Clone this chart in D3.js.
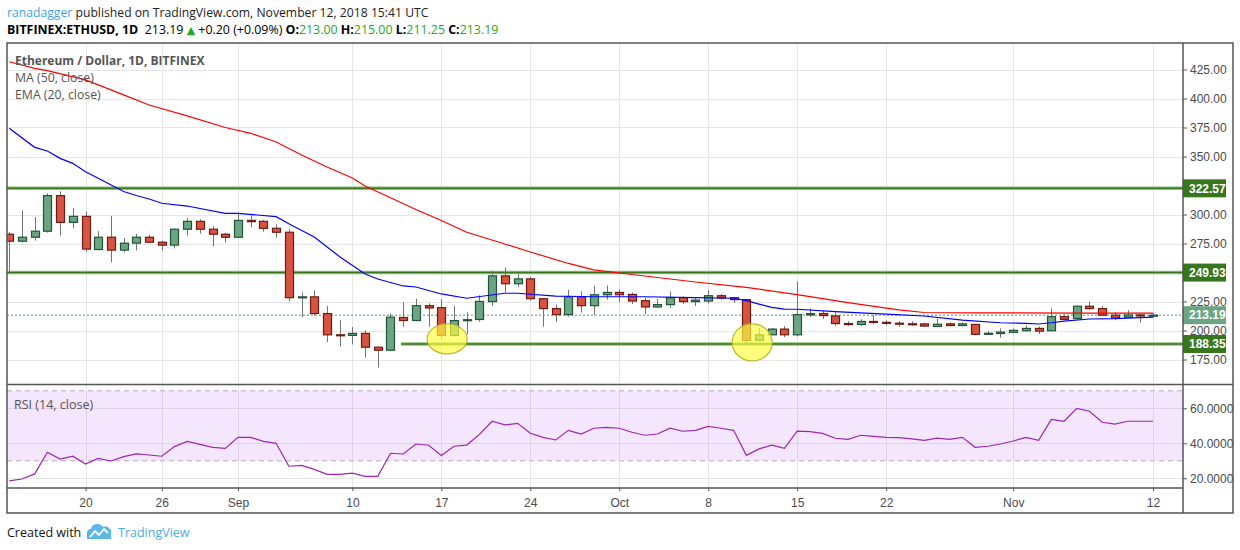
<!DOCTYPE html>
<html>
<head>
<meta charset="utf-8">
<script src="https://cdn.jsdelivr.net/npm/d3@7"></script>
<style>
  body { margin: 0; background: #fff; }
  svg { display: block; }
  text { font-family: "Open Sans", sans-serif; }
</style>
</head>
<body>
<svg id="chart" width="1240" height="550"></svg>
<script>
/************************* Data *************************/
const START_DATE = "2018-08-14";   // first candle, one candle per day

const opens = [
  283, 277, 280.4, 285.6, 316.3, 293.2, 298.4, 269.8, 280.4, 269.3,
  275.3, 280.4, 276.1, 273.6, 287.3, 294.1, 287.3, 283, 280.4, 294.9,
  294.1, 288.1, 284.7, 228.3, 229, 214.6, 196.3, 195.8, 197.5, 185.6,
  183, 211.2, 208.6, 221.4, 219.7, 195.8, 208.6, 209.5, 224.9, 247.1,
  240.3, 244.5, 227.4, 218.9, 213.7, 229.1, 221.4, 230.8, 232.8, 231.1,
  225.7, 220.3, 222.3, 228.3, 224.9, 225.4, 230, 228.3, 226.6, 191.5,
  196.3, 201.2, 196.3, 213.5, 214.6, 212.6, 206, 205.2, 207.8, 207,
  206.3, 205.8, 205.7, 203.5, 205.7, 204.3, 205.2, 196.7, 197.4, 198.4,
  199.8, 201.8, 199.8, 211.9, 210.3, 220.9, 218.9, 213.2, 211.5, 213.4,
  213.0
];
const highs = [
  285, 303.5, 297.8, 318.3, 320, 305.5, 302.6, 285.6, 298.6, 279.8,
  283.3, 282.4, 277.3, 288, 297, 295.8, 290.1, 284, 301.8, 299.2,
  295.4, 291.5, 287.3, 232.8, 234.5, 221, 209, 203, 200.3, 186,
  214.6, 224.3, 227.4, 223.4, 226.8, 221.4, 215.7, 230.3, 251.4, 254.2,
  249, 246.2, 227.7, 222.3, 235.1, 233.7, 238.8, 238.8, 235.6, 232.8,
  228.3, 227.1, 233.7, 229.4, 228, 234.5, 231.4, 229, 227, 202.3,
  202.3, 203.8, 242.2, 219, 217.2, 215.7, 208, 209.7, 213.2, 208.6,
  208, 208, 206.6, 210.3, 206.9, 207, 205.7, 199.5, 201.8, 201.8,
  204.4, 203.5, 218.9, 213.7, 221.7, 224.9, 221.1, 215.5, 217.5, 214,
  215
];
const lows = [
  250.8, 276, 277.5, 284.4, 282, 288, 268, 269.3, 258.7, 267.3,
  269, 276, 269, 270.7, 282, 283.5, 272.4, 275.8, 280, 289,
  285.2, 280, 225.4, 211.5, 213, 190, 186, 188, 176.7, 168.1,
  182.5, 203.2, 208, 203.2, 193, 194.6, 196.7, 207.5, 221, 233,
  237.7, 225.7, 203.2, 207.5, 212, 215.5, 213.4, 226.6, 224.5, 222.8,
  214.3, 219.4, 219.4, 222.8, 221.1, 223.2, 226.6, 223.7, 188.6, 190.3,
  196, 194.4, 195, 211.7, 210, 204, 204, 204, 205.8, 204.6,
  203.2, 204, 203.2, 203, 203.5, 203.7, 195.8, 196, 193.8, 197.6,
  199, 197, 199.5, 208.9, 209, 217.7, 212.9, 208.9, 210.8, 206.6,
  211.25
];
const closes = [
  277, 280.4, 285.6, 316.3, 293.2, 298.4, 270.2, 280.4, 269.3, 275.3,
  280.4, 276.1, 273.6, 287.3, 294.1, 287.3, 283, 280.4, 294.9, 293.8,
  288.1, 284.7, 228.3, 229, 214.6, 196.3, 195.8, 197.5, 185.6, 183,
  211.5, 208.6, 221.4, 219.4, 195.8, 208.6, 209.3, 225.1, 247.1, 240.3,
  244.5, 227.4, 218.9, 213.7, 229.1, 221.4, 230.8, 232.8, 230.8, 225.4,
  220.3, 222.3, 228.3, 224.9, 226.2, 230, 228, 226.6, 191.5, 196.3,
  201.2, 196.3, 213.7, 214.5, 212.9, 206, 205.5, 207.8, 207, 206.3,
  205.8, 205.5, 203.8, 205.4, 204.3, 205.7, 196.7, 197.6, 198.6, 200.1,
  201.8, 199.5, 211.9, 209.6, 220.9, 218.9, 213.2, 210.9, 213.4, 213.0,
  213.19
];

const rsi = [
  18.5, 19.6, 22.5, 34.9, 31, 32.6, 28.2, 31.4, 29.9, 32.4,
  33.9, 33.3, 32.6, 38.1, 41.1, 39.4, 37.7, 37.1, 43.4, 43.4,
  41.1, 40, 26.9, 27.4, 25.1, 22.3, 22.3, 22.9, 21.1, 21.1,
  34.3, 33.9, 39.6, 38.9, 33.1, 38.3, 39, 45.1, 52.6, 50.5,
  51.4, 45.7, 43.4, 41.9, 47.4, 45.3, 48.6, 49.1, 48.6, 46.3,
  44.6, 45.3, 48.6, 46.9, 47.4, 49.7, 48.6, 47.4, 33.1, 36.8,
  38.9, 37.1, 46.9, 46.7, 45.7, 42.9, 42.3, 44.6, 44, 43.4,
  43.2, 42.5, 41.7, 42.9, 42.3, 43.4, 37.7, 38.3, 39.6, 41.3,
  43.4, 41.7, 53.7, 52.6, 60, 58.3, 52, 51, 52.6, 52.6,
  52.6
];

// [candle index, value]
const ma50 = [
  [0, 431.7], [2, 426], [3, 424], [6, 416], [9, 403.1], [11, 394.4],
  [14, 385], [17, 375], [19, 370], [21, 362.5], [23, 351.3], [25, 341],
  [27, 331.5], [28, 324.6], [32, 304.3], [34, 294.8], [36, 284.7], [39, 274.6],
  [41, 267.7], [44, 257.8], [46, 252.2], [49, 248.3], [54, 241.8], [58, 237.1],
  [62, 231], [66, 224.1], [70, 217.7], [72, 215.5], [76, 215.2], [84, 215], [90, 215]
];
const ema20 = [
  [0, 374.3], [2, 357.9], [3, 354.7], [4, 348.4], [5, 344.1], [6, 336.9],
  [7, 331.2], [9, 319.8], [10, 316.4], [11, 313.4], [12, 309.7], [14, 307.3],
  [17, 301], [18, 301], [21, 298.1], [22, 292], [24, 280.6], [26, 263.6],
  [28, 248.7], [29, 244.4], [31, 238.4], [32, 237.5], [34, 231.5], [36, 227.8],
  [39, 232.1], [40, 232.1], [43, 229.7], [46, 229.1], [50, 229.1], [54, 228.3],
  [57, 227.8], [58, 225.7], [59, 222.8], [60, 220], [61, 218.5], [62, 218.3],
  [65, 216.2], [69, 214.2], [72, 212.5], [75, 209], [78, 206.7], [80, 206.1],
  [81, 205.6], [82, 206.7], [83, 208.1], [85, 209.9], [87, 210.2], [90, 211.6]
];

const levels = [322.57, 249.93, 188.35];
const levelStarts = [null, null, "2018-09-13T20:00Z"];
const lastPrice = 213.19;

const priceGrid = [175, 200, 225, 250, 275, 300, 325, 350, 375, 400, 425];
const priceTicks = [175, 200, 225, 275, 300, 350, 375, 400, 425];
const rsiTicks = [20, 40, 60];
const rsiBand = [30, 70];
const dateTicks = ["2018-08-20", "2018-08-26", "2018-09-01", "2018-09-10", "2018-09-17",
  "2018-09-24", "2018-10-01", "2018-10-08", "2018-10-15", "2018-10-22", "2018-11-01", "2018-11-12"];
const dateLabels = ["20", "26", "Sep", "10", "17", "24", "Oct", "8", "15", "22", "Nov", "12"];

// highlighted bounces: [date, price]
const marks = [["2018-09-17T11:00Z", 192.7], ["2018-10-11T11:00Z", 189.7]];

/************************* Constants *************************/
const PANE = {left: 7, right: 1183, top: 43, bottom: 384.5, rsiBottom: 488, outerRight: 1233, outerBottom: 513};
const COLORS = {
  grid: "#e6e6e6",
  border: "#555",
  axisText: "#4a4a4a",
  upFill: "#6ba583", upStroke: "#225437",
  downFill: "#d75442", downStroke: "#6f1a12",
  wick: "#737375",
  level: "#38761d", levelHalo: "#93c47d",
  last: "#6ba583",
  ma: "#ff0000", ema: "#0000ff",
  rsi: "#9c27b0", rsiFill: "#f3e6fd", rsiBandLine: "#b9a9bd",
  green: "#26a625", link: "#3fa5df"
};

const svg = d3.select("#chart");
const parse = d3.utcParse("%Y-%m-%d");
const start = parse(START_DATE);

const x = d3.scaleUtc()
  .domain([parse("2018-08-20"), parse("2018-11-12")])
  .range([85.5, 1153]);
const y = d3.scaleLinear().domain([175, 425]).range([359.5, 69.5]);
const yr = d3.scaleLinear().domain([20, 60]).range([478.3, 408.3]);

const candles = closes.map((c, i) => ({
  date: d3.utcDay.offset(start, i),
  open: opens[i], high: highs[i], low: lows[i], close: c
}));

/************************* Rendering *************************/
drawHeader();
drawGrid();
drawRsiPane();
drawMainPane();
drawAxes();
drawFrame();
drawFooter();

/** Publisher line and the OHLC summary */
function drawHeader() {
  const l1 = svg.append("text").attr("x", 7).attr("y", 17).style("font-size", "12.2px").attr("fill", "#222");
  l1.append("tspan").attr("fill", COLORS.link).text("ranadagger");
  l1.append("tspan").text(" published on TradingView.com, November 12, 2018 15:41 UTC");

  const l2 = svg.append("text").attr("x", 7).attr("y", 34).style("font-size", "12.4px").attr("fill", "#000");
  l2.append("tspan").style("font-weight", "bold").text("BITFINEX:ETHUSD, 1D");
  l2.append("tspan").text(`\u00a0 ${lastPrice} `);
  l2.append("tspan").attr("fill", COLORS.green).style("font-family", "DejaVu Sans").style("font-size", "11px").text("\u25b2");
  l2.append("tspan").text(" +0.20 (+0.09%) ");
  const ohlc = [["O:", opens[90]], ["H:", highs[90]], ["L:", lows[90]], ["C:", closes[90]]];
  ohlc.forEach(([k, v], i) => {
    l2.append("tspan").style("font-weight", "bold").text((i ? " " : "") + k);
    l2.append("tspan").attr("fill", COLORS.green).text(v.toFixed(2));
  });
}

function drawGrid() {
  const g = svg.append("g").attr("stroke", COLORS.grid).attr("stroke-width", 1);
  g.selectAll("line.h").data(priceGrid).join("line")
    .attr("x1", PANE.left).attr("x2", PANE.right)
    .attr("y1", d => Math.round(y(d)) + 0.5).attr("y2", d => Math.round(y(d)) + 0.5);
  g.selectAll("line.v").data(dateTicks).join("line")
    .attr("x1", d => Math.round(x(parse(d))) + 0.5).attr("x2", d => Math.round(x(parse(d))) + 0.5)
    .attr("y1", PANE.top).attr("y2", PANE.rsiBottom);
}

function drawRsiPane() {
  const g = svg.append("g");
  g.append("rect")
    .attr("x", PANE.left).attr("width", PANE.right - PANE.left)
    .attr("y", yr(rsiBand[1])).attr("height", yr(rsiBand[0]) - yr(rsiBand[1]))
    .attr("fill", COLORS.rsiFill);
  g.selectAll("line.grid").data(rsiTicks).join("line")
    .attr("x1", PANE.left).attr("x2", PANE.right)
    .attr("y1", d => Math.round(yr(d)) + 0.5).attr("y2", d => Math.round(yr(d)) + 0.5)
    .attr("stroke", d => d >= rsiBand[0] ? "#e0cfe8" : COLORS.grid);
  g.selectAll("line.band").data(rsiBand).join("line")
    .attr("x1", PANE.left).attr("x2", PANE.right)
    .attr("y1", d => yr(d)).attr("y2", d => yr(d))
    .attr("stroke", COLORS.rsiBandLine).attr("stroke-dasharray", "5,4");
  // vertical grid again on top of the band fill
  g.selectAll("line.v").data(dateTicks).join("line")
    .attr("x1", d => Math.round(x(parse(d))) + 0.5).attr("x2", d => Math.round(x(parse(d))) + 0.5)
    .attr("y1", yr(rsiBand[1])).attr("y2", yr(rsiBand[0]))
    .attr("stroke", "#e0cfe8");

  g.append("path")
    .datum(rsi)
    .attr("fill", "none").attr("stroke", COLORS.rsi).attr("stroke-width", 1.2)
    .attr("d", d3.line().x((d, i) => x(candles[i].date)).y(d => yr(d)));

  g.append("text").attr("x", 14).attr("y", 409)
    .attr("fill", "#555").style("font-size", "12.5px").text("RSI (14, close)");
}

function drawMainPane() {
  svg.append("clipPath").attr("id", "pane")
    .append("rect").attr("x", PANE.left).attr("y", PANE.top)
    .attr("width", PANE.right - PANE.left).attr("height", PANE.bottom - PANE.top);
  const g = svg.append("g").attr("clip-path", "url(#pane)");

  // support / resistance levels
  levels.forEach((lv, i) => {
    const x1 = levelStarts[i] ? x(new Date(levelStarts[i])) : PANE.left;
    g.append("line").attr("x1", x1).attr("x2", PANE.right).attr("y1", y(lv)).attr("y2", y(lv))
      .attr("stroke", COLORS.levelHalo).attr("stroke-width", 3.5);
    g.append("line").attr("x1", x1).attr("x2", PANE.right).attr("y1", y(lv)).attr("y2", y(lv))
      .attr("stroke", COLORS.level).attr("stroke-width", 1.5);
  });

  // last price line
  g.append("line").attr("x1", PANE.left).attr("x2", PANE.right)
    .attr("y1", y(lastPrice)).attr("y2", y(lastPrice))
    .attr("stroke", "#4f9a6e").attr("stroke-dasharray", "2,2");

  drawCandles(g);

  const maLine = d3.line().x(d => x(d3.utcDay.offset(start, d[0]))).y(d => y(d[1]));
  g.append("path").datum(ma50).attr("fill", "none")
    .attr("stroke", COLORS.ma).attr("stroke-width", 1.2).attr("d", maLine);
  g.append("path").datum(ema20).attr("fill", "none")
    .attr("stroke", COLORS.ema).attr("stroke-width", 1.2).attr("d", maLine);

  // highlighted bounces
  g.selectAll("ellipse").data(marks).join("ellipse")
    .attr("cx", d => x(new Date(d[0]))).attr("cy", d => y(d[1]))
    .attr("rx", 20).attr("ry", (d, i) => i ? 18.5 : 15)
    .attr("fill", "#ffff40").attr("fill-opacity", 0.68)
    .attr("stroke", "#b8b82e").attr("stroke-width", 1.2);

  // pane legend
  const lg = svg.append("g").attr("fill", "#555").style("font-size", "12.3px");
  lg.append("text").attr("x", 15).attr("y", 65).style("font-weight", "bold").style("font-size", "12px")
    .text("Ethereum / Dollar, 1D, BITFINEX");
  lg.append("text").attr("x", 15).attr("y", 82).text("MA (50, close)");
  lg.append("text").attr("x", 15).attr("y", 99).text("EMA (20, close)");
}

/** Draw candle wicks and bodies */
function drawCandles(g) {
  const up = d => d.close >= d.open;
  const c = g.append("g").selectAll("g").data(candles).join("g")
    .attr("transform", d => `translate(${Math.round(x(d.date))},0)`);
  c.append("line")
    .attr("x1", 0.5).attr("x2", 0.5)
    .attr("y1", d => y(d.high)).attr("y2", d => y(d.low))
    .attr("stroke", COLORS.wick).attr("stroke-width", 1);
  c.append("rect")
    .attr("x", -3.5).attr("width", 8)
    .attr("y", d => y(Math.max(d.open, d.close)))
    .attr("height", d => Math.max(1, Math.abs(y(d.open) - y(d.close))))
    .attr("fill", d => up(d) ? COLORS.upFill : COLORS.downFill)
    .attr("stroke", d => up(d) ? COLORS.upStroke : COLORS.downStroke)
    .attr("stroke-width", 1.2);
}

function drawAxes() {
  // price axis
  const pa = svg.append("g").attr("transform", `translate(${PANE.right},0)`)
    .call(d3.axisRight(y).tickValues(priceTicks).tickFormat(d3.format(".2f")).tickSize(4).tickPadding(3));
  styleAxis(pa);

  // value labels on the price axis
  const tags = levels.map(v => ({v, fill: COLORS.level})).concat([{v: lastPrice, fill: COLORS.last}]);
  const tg = svg.append("g").selectAll("g").data(tags).join("g")
    .attr("transform", d => `translate(${PANE.right},${y(d.v)})`);
  tg.append("rect").attr("x", 0).attr("y", -9).attr("width", 43).attr("height", 18).attr("fill", d => d.fill);
  tg.append("text").attr("x", 6).attr("dy", "0.35em").attr("fill", "#fff")
    .style("font-family", "Liberation Sans, Arial, sans-serif").style("font-size", "12px").style("font-weight", "bold")
    .text(d => d.v.toFixed(2));

  // rsi axis
  const ra = svg.append("g").attr("transform", `translate(${PANE.right},0)`)
    .call(d3.axisRight(yr).tickValues(rsiTicks).tickFormat(d3.format(".4f")).tickSize(4).tickPadding(3));
  styleAxis(ra);

  // time axis
  const ta = svg.append("g").attr("transform", `translate(0,${PANE.rsiBottom})`)
    .call(d3.axisBottom(x).tickValues(dateTicks.map(parse))
      .tickFormat((d, i) => dateLabels[i]).tickSize(3).tickPadding(7));
  styleAxis(ta);
}

function styleAxis(a) {
  a.select(".domain").remove();
  a.selectAll(".tick line").attr("stroke", COLORS.border);
  a.selectAll(".tick text").attr("fill", COLORS.axisText)
    .style("font-family", "Liberation Sans, Arial, sans-serif").style("font-size", "12px");
}

function drawFrame() {
  const g = svg.append("g").attr("stroke", COLORS.border).attr("stroke-width", 1.5).attr("fill", "none");
  g.append("rect").attr("x", PANE.left).attr("y", PANE.top)
    .attr("width", PANE.outerRight - PANE.left).attr("height", PANE.outerBottom - PANE.top);
  g.append("line").attr("x1", PANE.right).attr("x2", PANE.right).attr("y1", PANE.top).attr("y2", PANE.outerBottom);
  g.append("line").attr("x1", PANE.left).attr("x2", PANE.outerRight).attr("y1", PANE.bottom).attr("y2", PANE.bottom);
  g.append("line").attr("x1", PANE.left).attr("x2", PANE.right).attr("y1", PANE.rsiBottom).attr("y2", PANE.rsiBottom);
}

function drawFooter() {
  svg.append("text").attr("x", 7).attr("y", 537).attr("fill", "#111")
    .style("font-size", "12.5px").text("Created with");
  const logo = svg.append("g").attr("transform", "translate(87,523)");
  logo.append("path")
    .attr("d", "M0,16 L0,10 Q0,6 4,6 Q5,1 10,1 Q14,1 16,4 Q19,2 22,5 Q25,7 24,11 L24,16 Z")
    .attr("fill", "#5bb8e6");
  logo.append("path")
    .attr("d", "M3,14 L8,8 L12,12 L17,6 L21,10")
    .attr("fill", "none").attr("stroke", "#fff").attr("stroke-width", 1.8);
  svg.append("text").attr("x", 118).attr("y", 537).attr("fill", "#4aaee0")
    .style("font-size", "12.5px").text("TradingView");
}
</script>
</body>
</html>
